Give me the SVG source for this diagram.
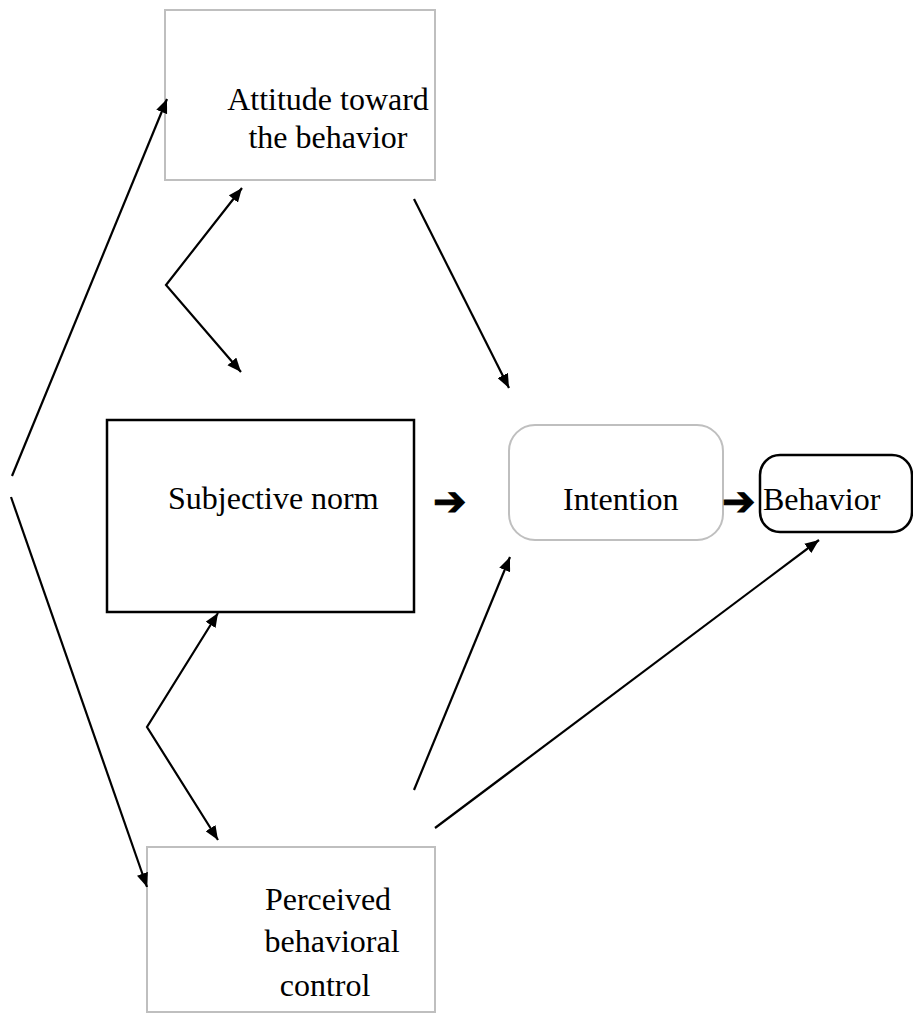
<svg xmlns="http://www.w3.org/2000/svg" width="913" height="1013" viewBox="0 0 913 1013">
  <style>
    .gray { fill: #ffffff; stroke: #bfbfbf; stroke-width: 2; }
    .black { fill: #ffffff; stroke: #000000; stroke-width: 2.5; }
    .lbl { font-family: "Liberation Serif", "Times New Roman", serif; font-size: 32px; fill: #000000; }
    .sym { font-family: "DejaVu Sans", sans-serif; font-size: 40px; fill: #000000; stroke: #000000; stroke-width: 1; }
    .conn { fill: none; stroke: #000000; stroke-width: 2.2; marker-end: url(#ah); }
    .dbl { fill: none; stroke: #000000; stroke-width: 2.2; marker-start: url(#ah); marker-end: url(#ah); }
  </style>
  <defs>
    <marker id="ah" viewBox="0 0 12 10" refX="12" refY="5" markerWidth="14" markerHeight="12" markerUnits="userSpaceOnUse" orient="auto-start-reverse">
      <path d="M0,0 L12,5 L0,10 z" fill="#000000"/>
    </marker>
  </defs>
  <rect width="913" height="1013" fill="#ffffff"/>

  <g id="attitude">
    <rect class="gray" x="165" y="10" width="270" height="170"/>
    <text class="lbl" x="328" y="110" text-anchor="middle">Attitude toward</text>
    <text class="lbl" x="328" y="148" text-anchor="middle">the behavior</text>
  </g>

  <g id="subjective-norm">
    <rect class="black" x="107" y="420" width="307" height="192"/>
    <text class="lbl" x="168" y="509">Subjective norm</text>
  </g>

  <g id="intention">
    <rect class="gray" x="509" y="425" width="214" height="115" rx="26" ry="26"/>
    <text class="lbl" x="563" y="510">Intention</text>
  </g>

  <g id="behavior">
    <rect class="black" x="760" y="455" width="152" height="77" rx="20" ry="20"/>
    <text class="lbl" x="763" y="510">Behavior</text>
  </g>

  <g id="perceived">
    <rect class="gray" x="147" y="847" width="288" height="165"/>
    <text class="lbl" x="328" y="910" text-anchor="middle">Perceived</text>
    <text class="lbl" x="332" y="952" text-anchor="middle">behavioral</text>
    <text class="lbl" x="325" y="996" text-anchor="middle">control</text>
  </g>

  <g id="connectors">
    <path class="conn" d="M12,476 L167,99"/>
    <path class="conn" d="M11,497 L147,887"/>
    <path class="dbl" d="M242,188 L166,285 L241,372"/>
    <path class="dbl" d="M218,613 L147,727 L218,840"/>
    <path class="conn" d="M414,199 L509,388"/>
    <path class="conn" d="M414,790 L510,557"/>
    <path class="conn" d="M435,828 L819,540"/>
    <text class="sym" x="433" y="515">➔</text>
    <text class="sym" x="722" y="515">➔</text>
  </g>
</svg>
